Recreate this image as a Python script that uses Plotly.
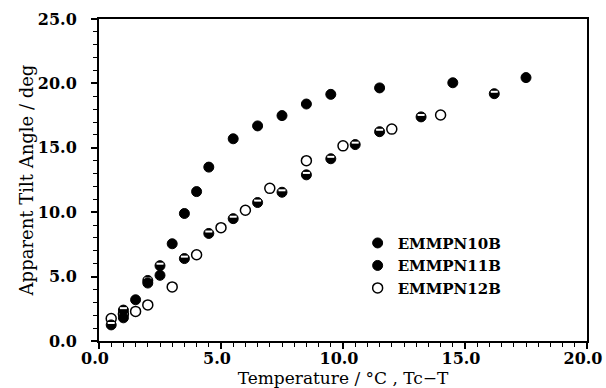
import plotly.graph_objects as go

# EMMPN10B (filled circles)
x10 = [1.0, 1.5, 2.0, 2.5, 3.0, 3.5, 4.0, 4.5, 5.5, 6.5, 7.5, 8.5, 9.5, 11.5, 14.5, 17.5]
y10 = [1.8, 3.2, 4.5, 5.1, 7.55, 9.9, 11.6, 13.5, 15.7, 16.7, 17.5, 18.4, 19.15, 19.65, 20.05, 20.45]

# EMMPN11B (half-filled circles)
x11 = [0.5, 1.0, 2.0, 2.5, 3.5, 4.5, 5.5, 6.5, 7.5, 8.5, 9.5, 10.5, 11.5, 13.2, 16.2]
y11 = [1.25, 2.4, 4.7, 5.85, 6.4, 8.35, 9.5, 10.75, 11.55, 12.9, 14.15, 15.25, 16.25, 17.4, 19.2]

# EMMPN12B (open circles)
x12 = [0.5, 1.0, 1.5, 2.0, 3.0, 4.0, 5.0, 6.0, 7.0, 8.5, 10.0, 12.0, 14.0]
y12 = [1.75, 2.1, 2.3, 2.8, 4.2, 6.7, 8.8, 10.15, 11.85, 14.0, 15.15, 16.45, 17.55]

x_ticks = [0, 5, 10, 15, 20]
y_ticks = [0, 5, 10, 15, 20, 25]

SERIF = "DejaVu Serif"
band_offset = 0.15  # white band in the upper part of half-filled markers

fig = go.Figure()
fig.add_trace(go.Scatter(
    x=x12, y=y12, mode="markers", name="EMMPN12B",
    marker=dict(symbol="circle", size=10, color="white",
                line=dict(color="black", width=1.5)),
))
fig.add_trace(go.Scatter(
    x=x11, y=y11, mode="markers", name="EMMPN11B",
    marker=dict(symbol="circle", size=10, color="black",
                line=dict(color="black", width=1)),
))
fig.add_trace(go.Scatter(
    x=x11, y=[v + band_offset for v in y11], mode="markers", showlegend=False,
    marker=dict(symbol="line-ew", size=5, color="white",
                line=dict(color="white", width=2)),
    hoverinfo="skip",
))
fig.add_trace(go.Scatter(
    x=x10, y=y10, mode="markers", name="EMMPN10B",
    marker=dict(symbol="circle", size=10, color="black",
                line=dict(color="black", width=1)),
))

axis_common = dict(
    showline=True, linecolor="black", linewidth=2, mirror=True,
    ticks="outside", tickcolor="black", tickwidth=1.5, ticklen=6,
    showgrid=False, zeroline=False, tickformat=".1f",
    ticklabeloverflow="allow", automargin=False,
    tickfont=dict(family=SERIF, size=16, color="black", weight="bold"),
)

fig.update_xaxes(
    range=[0, 20], tickvals=x_ticks, ticklabelshift=-4, ticklabelstandoff=-4,
    minor=dict(dtick=0.5, ticks="outside", ticklen=4, tickcolor="black", tickwidth=1.2),
    title=dict(text="Temperature / °C , Tc−T",
               font=dict(family=SERIF, size=17, color="black"), standoff=1),
    **axis_common,
)
fig.update_yaxes(
    range=[0, 25], tickvals=y_ticks, ticklabelstandoff=11,
    minor=dict(dtick=1, ticks="outside", ticklen=4, tickcolor="black", tickwidth=1.2),
    title=dict(text="Apparent Tilt Angle / deg",
               font=dict(family=SERIF, size=18, color="black"), standoff=0),
    **axis_common,
)

fig.update_layout(
    width=606, height=388,
    margin=dict(l=99, r=19, t=19, b=47),
    paper_bgcolor="white", plot_bgcolor="white",
    legend=dict(x=0.53, y=0.355, xanchor="left", yanchor="top",
                traceorder="reversed",
                font=dict(family=SERIF, size=15, color="black", weight="bold"),
                bgcolor="rgba(0,0,0,0)", itemwidth=30, tracegroupgap=0),
)

fig.write_html("out.html")
